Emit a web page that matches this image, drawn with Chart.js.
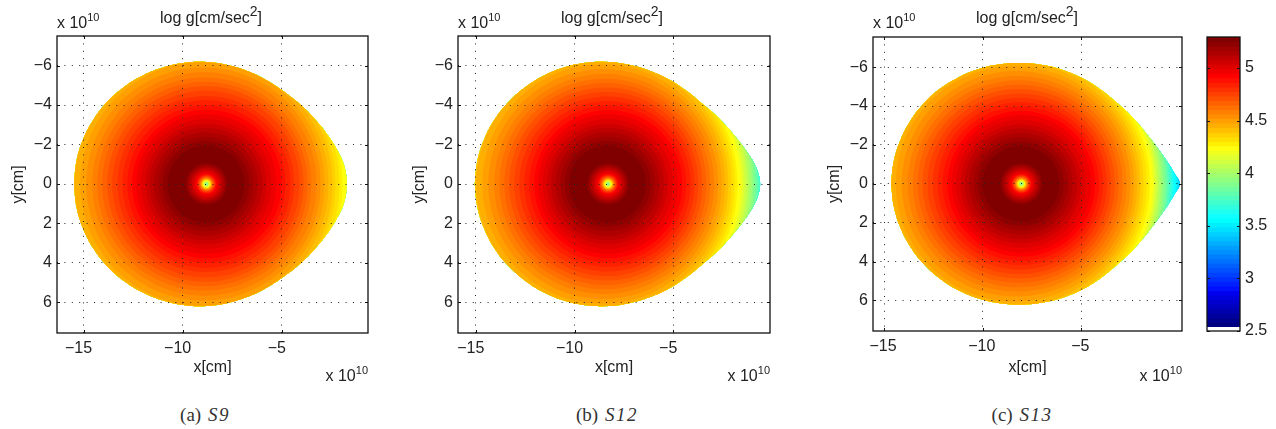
<!DOCTYPE html>
<html>
<head>
<meta charset="utf-8">
<style>
  body { margin: 0; background: #fff; width: 1276px; height: 429px; overflow: hidden; position: relative; }
  canvas { position: absolute; top: 0; }
  .caption { position: absolute; top: 404px; width: 120px; text-align: center; font: 19px "Liberation Serif"; color: #333; }
  .caption i { letter-spacing: 1.5px; margin-left: 2px; }
</style>
<script src="https://cdn.jsdelivr.net/npm/chart.js@4"></script>
</head>
<body>
<canvas id="s9" width="400" height="395" style="left:0px"></canvas>
<canvas id="s12" width="400" height="395" style="left:401px"></canvas>
<canvas id="s13" width="400" height="395" style="left:816px"></canvas>
<canvas id="bar" width="86" height="395" style="left:1190px"></canvas>
<div class="caption" style="left:145px">(a) <i>S9</i></div>
<div class="caption" style="left:547px">(b) <i>S12</i></div>
<div class="caption" style="left:962px">(c) <i>S13</i></div>
<script>
Chart.defaults.font.family = '"Liberation Sans"';
Chart.defaults.font.size = 16;
Chart.defaults.color = '#222';

const xTicks = [-15, -10, -5];
const yTicks = [-6, -4, -2, 0, 2, 4, 6];
const barTicks = [2.5, 3, 3.5, 4, 4.5, 5];

// x of the star centres, 10^10 cm
const s9Center = -8.80;
const s12Center = -8.30;
const s13Center = -8.04;

// star surface, distance from centre in 10^10 cm, upper half (lower half is the mirror)
const outlineAngles = [0, 4, 8, 12, 20, 30, 40, 50, 60, 70, 80, 90, 100, 110, 120, 130, 140, 150, 160, 170, 180];
const s9Outline = [7.08, 7.06, 7.00, 6.90, 6.66, 6.40, 6.22, 6.10, 6.07, 6.08, 6.12, 6.18, 6.24, 6.30, 6.37, 6.44, 6.51, 6.57, 6.62, 6.66, 6.68];
const s12Outline = [7.70, 7.63, 7.48, 7.28, 6.90, 6.55, 6.28, 6.17, 6.13, 6.11, 6.13, 6.18, 6.24, 6.31, 6.38, 6.45, 6.53, 6.61, 6.67, 6.72, 6.75];
const s13Outline = [8.04, 7.78, 7.53, 7.30, 6.93, 6.62, 6.40, 6.30, 6.25, 6.22, 6.20, 6.21, 6.24, 6.28, 6.33, 6.39, 6.44, 6.49, 6.53, 6.57, 6.60];

// colour band number of each contour, and where it crosses y=0 left and right of the centre
const ringBands = [64, 63, 62, 61, 60, 59, 58, 57, 56, 55, 54, 53, 52, 51, 50, 49, 48, 47, 46, 45, 44, 43, 42, 41, 40, 39, 38, 37, 36, 35, 34, 33, 32, 31, 30, 29, 28, 27, 26, 25, 24, 23, 22, 21, 20];
const ringLeft = [1.97, 2.20, 2.42, 2.65, 2.88, 3.08, 3.31, 3.54, 3.74, 3.99, 4.24, 4.49, 4.75, 5.00, 5.25, 5.50, 5.76, 6.06, 6.36, 6.67, 6.97, 7.15, 7.30, 7.45, 7.60, 7.75, 7.85, 7.95, 8.05, 8.15, 8.25, 8.35, 8.45, 8.55, 8.65, 8.75, 8.85, 8.95, 9.05, 9.15, 9.25, 9.35, 9.45, 9.55, 9.65];
const s9Right = [1.92, 2.15, 2.37, 2.60, 2.83, 3.03, 3.28, 3.54, 3.79, 3.99, 4.24, 4.44, 4.70, 4.90, 5.10, 5.30, 5.56, 5.76, 5.96, 6.16, 6.36, 6.52, 6.72, 6.87, 7.07, 7.22, 7.35, 7.45, 7.55, 7.65, 7.75, 7.85, 7.95, 8.05, 8.15, 8.25, 8.35, 8.45, 8.55, 8.65, 8.75, 8.85, 8.95, 9.05, 9.15];
const s12Right = [1.92, 2.15, 2.37, 2.60, 2.83, 3.03, 3.28, 3.54, 3.76, 3.96, 4.18, 4.38, 4.58, 4.78, 4.98, 5.18, 5.38, 5.58, 5.76, 5.94, 6.10, 6.26, 6.42, 6.56, 6.72, 6.82, 6.92, 7.02, 7.12, 7.21, 7.30, 7.38, 7.46, 7.54, 7.62, 7.70, 7.78, 7.84, 7.90, 7.96, 8.02, 8.08, 8.14, 8.20, 8.26];
const s13Right = [1.92, 2.15, 2.37, 2.60, 2.83, 3.03, 3.28, 3.54, 3.74, 3.94, 4.14, 4.34, 4.54, 4.74, 4.94, 5.14, 5.34, 5.54, 5.72, 5.88, 6.04, 6.20, 6.36, 6.52, 6.67, 6.75, 6.83, 6.91, 6.99, 7.07, 7.15, 7.23, 7.31, 7.38, 7.45, 7.52, 7.59, 7.66, 7.73, 7.80, 7.87, 7.92, 7.97, 8.02, 8.07];

// the low gravity spot right at the centre
const coreBands = [63, 62, 61, 60, 59, 58, 57, 56, 55, 54, 53, 52, 51, 50, 49, 48, 47, 46, 45, 44, 43, 42, 41, 40, 39, 38, 37, 36, 35, 34, 33];
const coreRadii = [1.05, 0.97, 0.89, 0.81, 0.74, 0.67, 0.60, 0.52, 0.49, 0.46, 0.43, 0.40, 0.37, 0.35, 0.32, 0.30, 0.28, 0.26, 0.245, 0.23, 0.215, 0.20, 0.185, 0.17, 0.155, 0.14, 0.125, 0.11, 0.095, 0.08, 0.065];

// colour bar edges, log g, 64 bands
const barEdges = [2.540, 2.583, 2.626, 2.669, 2.712, 2.755, 2.798, 2.841, 2.884, 2.927, 2.970, 3.013, 3.056, 3.099, 3.142, 3.185, 3.228, 3.271, 3.314, 3.357, 3.400, 3.443, 3.486, 3.529, 3.572, 3.615, 3.658, 3.701, 3.744, 3.787, 3.830, 3.873, 3.916, 3.959, 4.002, 4.045, 4.088, 4.131, 4.174, 4.217, 4.260, 4.303, 4.346, 4.389, 4.432, 4.475, 4.518, 4.561, 4.604, 4.647, 4.690, 4.733, 4.776, 4.819, 4.862, 4.905, 4.948, 4.991, 5.034, 5.077, 5.120, 5.163, 5.206, 5.249, 5.295];

// matlab jet(64)
function ramp(k) {
  if (k < 1) return 0;
  if (k <= 16) return k / 16;
  if (k <= 31) return 1;
  if (k <= 47) return (48 - k) / 16;
  return 0;
}
function jet(i) {
  const c = [ramp(i - 24), ramp(i - 8), ramp(i + 7)].map(v => Math.round(v * 255));
  return 'rgb(' + c.join(',') + ')';
}

function circle_points(cx, r) {
  const pts = [];
  for (let a = 0; a <= 360; a += 10) {
    pts.push({ x: cx + r * Math.cos(a * Math.PI / 180), y: r * Math.sin(a * Math.PI / 180) });
  }
  return pts;
}

function outline_points(cx, radii) {
  const pts = [];
  // start on the round far side, go over the top, through the tip and back under
  for (let i = radii.length - 1; i >= 0; i--) {
    const a = outlineAngles[i] * Math.PI / 180;
    pts.push({ x: cx + radii[i] * Math.cos(a), y: -radii[i] * Math.sin(a) });
  }
  for (let i = 1; i < radii.length; i++) {
    const a = outlineAngles[i] * Math.PI / 180;
    pts.push({ x: cx + radii[i] * Math.cos(a), y: radii[i] * Math.sin(a) });
  }
  return pts;
}

function shape(points, band) {
  return {
    data: points,
    showLine: true,
    pointRadius: 0,
    borderWidth: 0,
    tension: 0.4,
    fill: 'shape',
    backgroundColor: jet(band)
  };
}

function with_sup(ctx, text, sup, x, y, right, supSize) {
  ctx.textBaseline = 'alphabetic';
  ctx.textAlign = 'left';
  ctx.font = '16px "Liberation Sans"';
  const w = ctx.measureText(text).width;
  ctx.font = supSize + 'px "Liberation Sans"';
  const sw = ctx.measureText(sup).width;
  const left = right ? x - w - sw : x;
  ctx.font = '16px "Liberation Sans"';
  ctx.fillText(text, left, y);
  ctx.font = supSize + 'px "Liberation Sans"';
  ctx.fillText(sup, left + w, y - 7);
  return left + w + sw;
}

// clip the contours to the star surface (last dataset)
const clipToStar = {
  id: 'clipToStar',
  beforeDatasetsDraw(chart) {
    const line = chart.getDatasetMeta(chart.data.datasets.length - 1).dataset;
    line.updateControlPoints(chart.chartArea);
    chart.ctx.save();
    chart.ctx.beginPath();
    line.path(chart.ctx);
    chart.ctx.closePath();
    chart.ctx.clip();
  },
  afterDatasetsDraw(chart) {
    chart.ctx.restore();
  }
};

// matlab style box with inward ticks
const boxFrame = {
  id: 'boxFrame',
  afterDraw(chart) {
    const { ctx, chartArea: a, scales } = chart;
    ctx.save();
    ctx.strokeStyle = '#111';
    ctx.lineWidth = 1.3;
    ctx.strokeRect(a.left, a.top, a.right - a.left, a.bottom - a.top);
    ctx.lineWidth = 1;
    ctx.beginPath();
    if (scales.x.options.display) {
      scales.x.ticks.forEach(t => {
        const p = Math.round(scales.x.getPixelForValue(t.value)) + 0.5;
        ctx.moveTo(p, a.top); ctx.lineTo(p, a.top + 3);
        ctx.moveTo(p, a.bottom); ctx.lineTo(p, a.bottom - 3);
      });
    }
    scales.y.ticks.forEach(t => {
      const p = Math.round(scales.y.getPixelForValue(t.value)) + 0.5;
      ctx.moveTo(a.left, p); ctx.lineTo(a.left + 3, p);
      ctx.moveTo(a.right, p); ctx.lineTo(a.right - 3, p);
    });
    ctx.stroke();
    ctx.restore();
  }
};

const starTexts = {
  id: 'starTexts',
  afterDraw(chart) {
    const { ctx, chartArea: a } = chart;
    ctx.save();
    ctx.fillStyle = '#222';
    const end = with_sup(ctx, 'log g[cm/sec', '2', a.left + 103, 23, false, 14);
    ctx.font = '16px "Liberation Sans"';
    ctx.fillText(']', end, 23);
    with_sup(ctx, 'x 10', '10', a.left, 28, false, 11);
    with_sup(ctx, 'x 10', '10', a.right, 381, true, 11);
    ctx.restore();
  }
};

function minus(v) {
  return String(v).replace('-', '\u2212');
}

// Function to Create one star panel
function star_chart(canvas, box, xRange, yRange, center, outline, rightRadii) {
  const datasets = [];
  for (let i = coreRadii.length - 1; i >= 0; i--) {
    datasets.push(shape(circle_points(center, coreRadii[i]), coreBands[i]));
  }
  ringBands.forEach((band, i) => {
    const cx = center + (rightRadii[i] - ringLeft[i]) / 2;
    datasets.push(shape(circle_points(cx, (rightRadii[i] + ringLeft[i]) / 2), band));
  });
  datasets.push(shape(outline_points(center, outline), 18));

  new Chart(document.getElementById(canvas), {
    type: 'scatter',
    data: { datasets: datasets },
    options: {
      responsive: false,
      animation: false,
      layout: { padding: { top: box.top, right: 400 - box.right, bottom: 18 } },
      plugins: { legend: { display: false }, tooltip: { enabled: false } },
      scales: {
        x: {
          min: xRange[0],
          max: xRange[1],
          afterBuildTicks: s => { s.ticks = xTicks.map(v => ({ value: v })); },
          afterFit: s => { s.height = 377 - box.bottom; },
          grid: { z: 1, color: '#222', drawTicks: false },
          border: { display: false, dash: [1, 6.4] },
          ticks: { padding: 6, labelOffset: box.labelShift, maxRotation: 0, autoSkip: false, callback: minus },
          title: { display: true, text: 'x[cm]', padding: { top: 4, bottom: 0 } }
        },
        y: {
          reverse: true,
          min: yRange[0],
          max: yRange[1],
          afterBuildTicks: s => { s.ticks = yTicks.map(v => ({ value: v })); },
          afterFit: s => { s.width = box.left; },
          grid: { z: 1, color: '#222', drawTicks: false },
          border: { display: false, dash: [1, 6.4] },
          ticks: { padding: 5, autoSkip: false, callback: minus },
          title: { display: true, text: 'y[cm]', padding: { top: 9, bottom: 0 } }
        }
      }
    },
    plugins: [clipToStar, boxFrame, starTexts]
  });
}

// Function to Create the colour bar, one floating bar per band, top bands drawn last
function bar_chart(canvas) {
  const datasets = [];
  for (let k = barEdges.length - 2; k >= 0; k--) {
    datasets.push({
      data: [[barEdges[k], barEdges[barEdges.length - 1]]],
      backgroundColor: jet(k + 1),
      borderWidth: 0,
      grouped: false,
      barPercentage: 1,
      categoryPercentage: 1
    });
  }
  new Chart(document.getElementById(canvas), {
    type: 'bar',
    data: { labels: ['log g'], datasets: datasets },
    options: {
      responsive: false,
      animation: false,
      layout: { padding: { top: 37, left: 17, bottom: 64 } },
      plugins: { legend: { display: false }, tooltip: { enabled: false } },
      scales: {
        x: { display: false },
        y: {
          position: 'right',
          min: 2.5,
          max: 5.295,
          afterBuildTicks: s => { s.ticks = barTicks.map(v => ({ value: v })); },
          afterFit: s => { s.width = 36; },
          grid: { display: false, drawTicks: false },
          border: { display: false },
          ticks: { padding: 5, autoSkip: false, callback: v => String(v) }
        }
      }
    },
    plugins: [boxFrame]
  });
}

star_chart('s9', { left: 57, right: 368, top: 36, bottom: 333, labelShift: -5 }, [-16.34, -0.65], [-7.5, 7.55], s9Center, s9Outline, s9Right);
star_chart('s12', { left: 57, right: 369, top: 36, bottom: 333, labelShift: -5 }, [-15.9, -0.1], [-7.5, 7.55], s12Center, s12Outline, s12Right);
star_chart('s13', { left: 57, right: 366, top: 37, bottom: 331, labelShift: -1 }, [-15.56, 0.1], [-7.55, 7.57], s13Center, s13Outline, s13Right);
bar_chart('bar');
</script>
</body>
</html>
